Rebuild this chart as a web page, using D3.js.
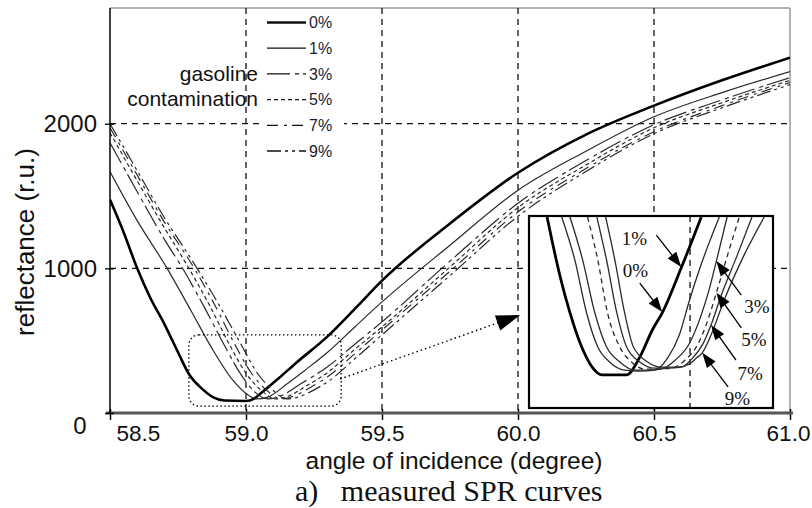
<!DOCTYPE html>
<html><head><meta charset="utf-8">
<script src="https://cdn.jsdelivr.net/npm/d3@7"></script>
<style>body{margin:0;background:#fff}svg{display:block}</style>
</head><body><svg id="c" width="812" height="508"></svg>
<script>
// ---------- data ----------
const seriesNames = ["0%","1%","3%","5%","7%","9%"];
const legendWords = ["gasoline","contamination"];
const xTicks = [58.5,59.0,59.5,60.0,60.5,61.0];
const yTicks = [0,1000,2000];
const xGrid = [59.0,59.5,60.0,60.5];
const yGrid = [1000,2000];

const curve0 = [[58.5,1474],[58.55,1250],[58.6,1000],[58.647,800],[58.7,615],[58.75,420],[58.79,270],[58.84,165],[58.88,108],[58.92,86],[59.0,83],[59.03,100],[59.06,145],[59.12,240],[59.184,346],[59.3,530],[59.4,720],[59.5,915],[59.75,1310],[60.0,1661],[60.25,1925],[60.5,2125],[60.75,2300],[61.0,2457]];
const curve1 = [[58.5,1668],[58.6,1330],[58.71,1000],[58.8,700],[58.88,430],[58.95,230],[59.0,135],[59.04,97],[59.08,110],[59.15,200],[59.22,300],[59.3,420],[59.4,595],[59.5,768],[59.75,1160],[60.0,1540],[60.25,1810],[60.5,2048],[60.75,2215],[61.0,2360]];
const curve3 = [[58.5,1868],[58.6,1530],[58.7,1200],[58.77,990],[58.85,720],[58.92,470],[58.98,270],[59.03,150],[59.08,97],[59.13,120],[59.2,200],[59.3,320],[59.4,475],[59.5,630],[59.75,1050],[60.0,1450],[60.25,1745],[60.5,1993],[60.75,2165],[61.0,2318]];
const curve5 = [[58.5,1938],[58.6,1605],[58.7,1280],[58.79,1000],[58.87,730],[58.94,470],[59.0,275],[59.06,150],[59.11,97],[59.16,120],[59.22,185],[59.3,280],[59.4,440],[59.5,595],[59.75,1010],[60.0,1420],[60.25,1715],[60.5,1972],[60.75,2145],[61.0,2300]];
const curve7 = [[58.5,1972],[58.6,1645],[58.7,1320],[58.81,1000],[58.89,730],[58.96,470],[59.02,275],[59.08,150],[59.13,97],[59.18,120],[59.23,170],[59.3,250],[59.4,410],[59.5,574],[59.75,980],[60.0,1390],[60.25,1690],[60.5,1945],[60.75,2125],[61.0,2285]];
const curve9 = [[58.5,2000],[58.6,1675],[58.7,1350],[58.8,1060],[58.9,750],[58.98,480],[59.04,280],[59.1,155],[59.15,97],[59.2,115],[59.25,160],[59.3,215],[59.4,375],[59.5,540],[59.75,950],[60.0,1360],[60.25,1670],[60.5,1931],[60.75,2110],[61.0,2270]];

// inset (magnified view) curves
const inset0 = [[58.837,448],[58.849,390],[58.863,327],[58.884,248],[58.908,177],[58.931,133],[58.949,119],[59.0,119],[59.027,156],[59.053,213],[59.073,248],[59.112,342],[59.153,448]];
const inset1 = [[58.867,448],[58.894,358],[58.918,248],[58.941,177],[58.965,146],[58.996,129],[59.027,127],[59.057,129],[59.084,154],[59.108,202],[59.129,275],[59.149,338],[59.169,394],[59.190,448]];
const inset3 = [[58.884,448],[58.910,358],[58.935,248],[58.959,177],[58.986,146],[59.016,129],[59.043,129],[59.071,131],[59.100,150],[59.129,185],[59.153,244],[59.169,296],[59.184,356],[59.206,448]];
const inset5 = [[58.920,448],[58.941,358],[58.961,248],[58.986,177],[59.010,146],[59.037,131],[59.063,131],[59.092,133],[59.120,150],[59.145,181],[59.163,223],[59.184,290],[59.210,379],[59.231,448]];
const inset7 = [[58.939,448],[58.959,358],[58.980,248],[59.000,177],[59.027,146],[59.057,133],[59.084,133],[59.112,135],[59.135,154],[59.155,181],[59.173,223],[59.194,285],[59.227,369],[59.257,448]];
const inset9 = [[58.957,448],[58.976,358],[58.996,248],[59.014,177],[59.043,146],[59.071,135],[59.104,135],[59.129,142],[59.143,154],[59.155,165],[59.173,202],[59.200,275],[59.241,369],[59.282,448]];
const insetGrid = [59.13];
const insetLabels = ["1%","0%","3%","5%","7%","9%"];
const insetLabelAt = [[59.016,404],[59.018,337],[59.267,262],[59.261,192],[59.253,123],[59.227,71]];
const insetArrowFrom = [[59.061,410],[59.027,310],[59.235,285],[59.235,217],[59.224,150],[59.208,94]];
const insetArrowTo = [[59.112,344],[59.073,250],[59.184,356],[59.184,290],[59.173,223],[59.155,165]];

const zoomRegion = [58.79, 59.35, 48, 540];
const zoomArrow = [[59.346,235],[60.008,678]];

// ---------- drawing ----------
const svg = d3.select("#c");
const SANS = "'Liberation Sans', Arial, Helvetica, sans-serif";
const SERIF = "'Liberation Serif', 'Times New Roman', serif";
const x = d3.scaleLinear().domain([58.5,61.0]).range([110,790]);
const y = d3.scaleLinear().domain([0,2800]).range([413,8]);

const mainCurves = [curve0,curve1,curve3,curve5,curve7,curve9];
const dashes = [null,null,"23,5,4,4","4,3","11,6,3,5","14,4,3,4,3,4"];
const widths = [2.6,1.2,1.2,1.2,1.2,1.2];

svg.append("defs").append("clipPath").attr("id","plotclip")
  .append("rect").attr("x",110).attr("y",8).attr("width",680).attr("height",405);

// frame (top/right gray)
svg.append("line").attr("x1",110).attr("x2",790).attr("y1",8).attr("y2",8).attr("stroke","#999").attr("stroke-width",1.5);
svg.append("line").attr("x1",790).attr("x2",790).attr("y1",8).attr("y2",413).attr("stroke","#999").attr("stroke-width",1.5);

// grid
svg.append("g").selectAll("line").data(xGrid).join("line")
  .attr("x1",d=>x(d)).attr("x2",d=>x(d)).attr("y1",y(2800)).attr("y2",y(0))
  .attr("stroke","#111").attr("stroke-width",1.3).attr("stroke-dasharray","6,5");
svg.append("g").selectAll("line").data(yGrid).join("line")
  .attr("x1",x(58.5)).attr("x2",x(61.0)).attr("y1",d=>y(d)).attr("y2",d=>y(d))
  .attr("stroke","#111").attr("stroke-width",1.3).attr("stroke-dasharray","6,5");

// legend
const lg = svg.append("g");
lg.append("rect").attr("x",262).attr("y",12).attr("width",82).attr("height",150).attr("fill","#fff");
seriesNames.forEach((s,i)=>{
  const yy = 22.5 + i*25.7;
  lg.append("line").attr("x1",267).attr("x2",306).attr("y1",yy).attr("y2",yy)
    .attr("stroke","#111").attr("stroke-width",i===0?2.6:1.3)
    .attr("stroke-dasharray",dashes[i]);
  lg.append("text").attr("x",309).attr("y",yy).attr("dy","0.36em")
    .attr("font-family",SANS).attr("font-size",16).attr("fill","#1c1c36").text(s);
});
legendWords.forEach((w,i)=>{
  svg.append("text").attr("x",258).attr("y",73+i*25.7).attr("dy","0.36em").attr("text-anchor","end")
    .attr("font-family",SANS).attr("font-size",21).attr("fill","#111").text(w);
});

// curves
const line = d3.line().x(d=>x(d[0])).y(d=>y(d[1])).curve(d3.curveMonotoneX);
const cg = svg.append("g").attr("clip-path","url(#plotclip)");
mainCurves.forEach((c,i)=>{
  cg.append("path").attr("d",line(c)).attr("fill","none")
    .attr("stroke",i===0?"#000":"#2a2a2a").attr("stroke-width",widths[i])
    .attr("stroke-dasharray",dashes[i]).attr("stroke-linejoin","round");
});

// zoom region
svg.append("rect").attr("x",x(zoomRegion[0])).attr("y",y(zoomRegion[3]))
  .attr("width",x(zoomRegion[1])-x(zoomRegion[0])).attr("height",y(zoomRegion[2])-y(zoomRegion[3]))
  .attr("rx",10).attr("fill","none").attr("stroke","#000").attr("stroke-width",1.3).attr("stroke-dasharray","1.5,2.5");

function arrow(g, x1,y1,x2,y2,L,hw,dash,sw){
  const dx=x2-x1, dy=y2-y1, len=Math.hypot(dx,dy), ux=dx/len, uy=dy/len;
  const bx=x2-ux*L, by=y2-uy*L;
  g.append("line").attr("x1",x1).attr("y1",y1).attr("x2",bx+ux*2).attr("y2",by+uy*2)
    .attr("stroke","#000").attr("stroke-width",sw).attr("stroke-dasharray",dash);
  g.append("path").attr("d",`M${x2},${y2}L${bx-uy*hw},${by+ux*hw}L${bx+uy*hw},${by-ux*hw}Z`).attr("fill","#000");
}
arrow(svg, x(zoomArrow[0][0]),y(zoomArrow[0][1]),x(zoomArrow[1][0]),y(zoomArrow[1][1]),24,8,"1.5,3",1.4);

// inset
const xi = d3.scaleLinear().domain([58.80,59.30]).range([529,773]);
const yi = d3.scaleLinear().domain([50,450]).range([408,216]);
const ig = svg.append("g");
ig.append("defs").append("clipPath").attr("id","insetclip").append("rect")
  .attr("x",529).attr("y",216).attr("width",244).attr("height",192);
ig.append("rect").attr("x",529).attr("y",216).attr("width",244).attr("height",192).attr("fill","#fff");
ig.selectAll("line.g").data(insetGrid).join("line").attr("class","g")
  .attr("x1",d=>xi(d)).attr("x2",d=>xi(d)).attr("y1",216).attr("y2",408)
  .attr("stroke","#111").attr("stroke-width",1.3).attr("stroke-dasharray","6,5");
const iline = d3.line().x(d=>xi(d[0])).y(d=>yi(d[1])).curve(d3.curveMonotoneX);
const icg = ig.append("g").attr("clip-path","url(#insetclip)");
[inset0,inset1,inset3,inset5,inset7,inset9].forEach((c,i)=>{
  icg.append("path").attr("d",iline(c)).attr("fill","none")
    .attr("stroke",i===0?"#000":"#2a2a2a").attr("stroke-width",i===0?2.8:1.3)
    .attr("stroke-dasharray",i===3?"5,4":null);
});
insetLabels.forEach((t,i)=>{
  ig.append("text").attr("x",xi(insetLabelAt[i][0])).attr("y",yi(insetLabelAt[i][1])).attr("dy","0.35em")
    .attr("text-anchor","middle").attr("font-family",SERIF).attr("font-size",19).attr("fill","#111").text(t);
  arrow(ig, xi(insetArrowFrom[i][0]),yi(insetArrowFrom[i][1]),xi(insetArrowTo[i][0]),yi(insetArrowTo[i][1]),15,5.5,null,1.3);
});
ig.append("rect").attr("x",529).attr("y",216).attr("width",244).attr("height",192)
  .attr("fill","none").attr("stroke","#000").attr("stroke-width",2.2);

// axes
const xa = svg.append("g").attr("transform","translate(0,413)")
  .call(d3.axisBottom(x).tickValues(xTicks).tickFormat(d3.format(".1f")).tickSize(7).tickPadding(5));
xa.select(".domain").remove();
xa.selectAll(".tick line").attr("y1",-4).attr("stroke","#000").attr("stroke-width",1.5);
xa.selectAll(".tick text").attr("font-family",SANS).attr("font-size",22.5).attr("fill","#111")
  .attr("x",d=>d===58.5?28:(d===61.0?-2:0));
svg.append("line").attr("x1",106).attr("x2",793).attr("y1",413).attr("y2",413).attr("stroke","#555").attr("stroke-width",3);

const ya = svg.append("g").attr("transform","translate(110,0)")
  .call(d3.axisLeft(y).tickValues(yTicks).tickFormat(d3.format("d")).tickSize(5).tickPadding(8));
ya.select(".domain").attr("d",`M0,${y(2800)}V${y(0)}`).attr("stroke","#000").attr("stroke-width",1.5);
ya.selectAll(".tick line").attr("x2",-5).attr("x1",4).attr("stroke","#000").attr("stroke-width",1.3);
ya.selectAll(".tick text").attr("font-family",SANS).attr("font-size",24).attr("fill","#111");
ya.selectAll(".tick").filter(d=>d===0).select("text").attr("text-anchor","middle").attr("x",-30).attr("dy","0.85em");

// titles
svg.append("text").attr("x",454).attr("y",469).attr("text-anchor","middle")
  .attr("font-family",SANS).attr("font-size",24.5).attr("fill","#111").text("angle of incidence (degree)");
svg.append("text").attr("transform","translate(34,242) rotate(-90)").attr("text-anchor","middle")
  .attr("font-family",SANS).attr("font-size",26).attr("fill","#111").text("reflectance (r.u.)");
svg.append("text").attr("x",295).attr("y",501).attr("font-family",SERIF).attr("font-size",30).attr("fill","#111")
  .style("white-space","pre").text("a)   measured SPR curves");
</script></body></html>
